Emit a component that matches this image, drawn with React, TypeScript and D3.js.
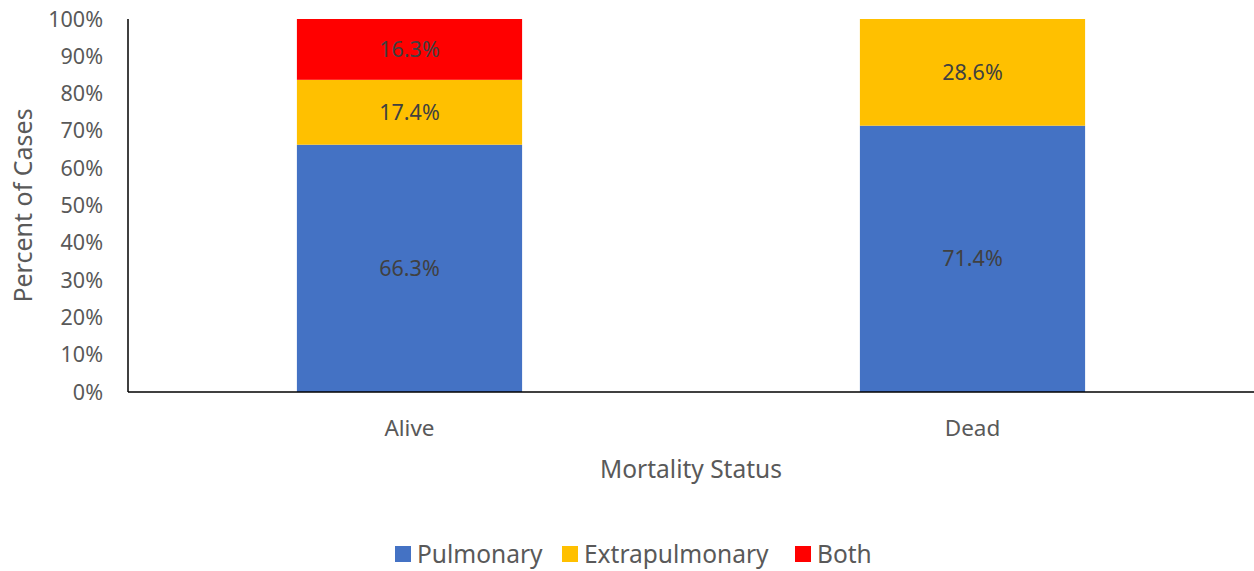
import React from "react";
import * as d3 from "d3";

const categories = ["Alive", "Dead"];
const seriesNames = ["Pulmonary", "Extrapulmonary", "Both"];
const pulmonary = [66.3, 71.4];
const extrapulmonary = [17.4, 28.6];
const both = [16.3, 0];
const colors = ["#4472C4", "#FFC000", "#FF0000"];
const yTicks = [0, 10, 20, 30, 40, 50, 60, 70, 80, 90, 100];

const W = 1254;
const H = 571;
const FONT = "'Noto Sans', 'Open Sans', sans-serif";
const TEXT = "#595959";

export default function App() {
  const left = 128;
  const right = 1254;
  const top = 19;
  const bottom = 392;
  const x = d3.scaleBand<string>().domain(categories).range([left, right]).paddingInner(0.6).paddingOuter(0.3);
  const y = d3.scaleLinear().domain([0, 100]).range([bottom, top]);
  const seriesData = [pulmonary, extrapulmonary, both];
  const rows = categories.map((c, i) => ({ cat: c, Pulmonary: pulmonary[i], Extrapulmonary: extrapulmonary[i], Both: both[i] }));
  const stack = d3.stack<any>().keys(seriesNames)(rows);

  const legendItems = [
    { name: "Pulmonary", sx: 395, tx: 417 },
    { name: "Extrapulmonary", sx: 562, tx: 584 },
    { name: "Both", sx: 795, tx: 817 },
  ];

  return (
    <svg width={W} height={H} style={{ position: "absolute", left: 0, top: 0, background: "#fff" }} fontFamily={FONT}>
      {stack.map((s, si) => (
        <g key={s.key} fill={colors[si]}>
          {s.map((d, i) => {
            const v = seriesData[si][i];
            if (!v) return null;
            const x0 = x(categories[i])!;
            const y0 = y(d[1]);
            const h = y(d[0]) - y(d[1]);
            return (
              <g key={i}>
                <rect x={x0} y={y0} width={x.bandwidth()} height={h} />
                <text x={x0 + x.bandwidth() / 2} y={y0 + h / 2} dy="0.35em" textAnchor="middle" fontSize={21.5} fill="#404040">
                  {v.toFixed(1)}%
                </text>
              </g>
            );
          })}
        </g>
      ))}
      <line x1={left} x2={right} y1={bottom} y2={bottom} stroke="#000" strokeWidth={1.5} />
      <line x1={left} x2={left} y1={top} y2={bottom} stroke="#000" strokeWidth={1.5} />
      {yTicks.map((t) => (
        <text key={t} x={103} y={y(t)} dy="0.35em" textAnchor="end" fontSize={21.5} fill={TEXT}>
          {t}%
        </text>
      ))}
      {categories.map((c) => (
        <text key={c} x={x(c)! + x.bandwidth() / 2} y={428} dy="0.35em" textAnchor="middle" fontSize={22.5} fill={TEXT}>
          {c}
        </text>
      ))}
      <text x={(left + right) / 2} y={469} dy="0.35em" textAnchor="middle" fontSize={24.5} fill={TEXT}>
        Mortality Status
      </text>
      <text transform={`translate(23, ${(top + bottom) / 2}) rotate(-90)`} dy="0.35em" textAnchor="middle" fontSize={25} fill={TEXT}>
        Percent of Cases
      </text>
      {legendItems.map((l, i) => (
        <g key={l.name}>
          <rect x={l.sx} y={546} width={16} height={16} fill={colors[i]} />
          <text x={l.tx} y={554} dy="0.35em" fontSize={24.5} fill={TEXT}>
            {l.name}
          </text>
        </g>
      ))}
    </svg>
  );
}
